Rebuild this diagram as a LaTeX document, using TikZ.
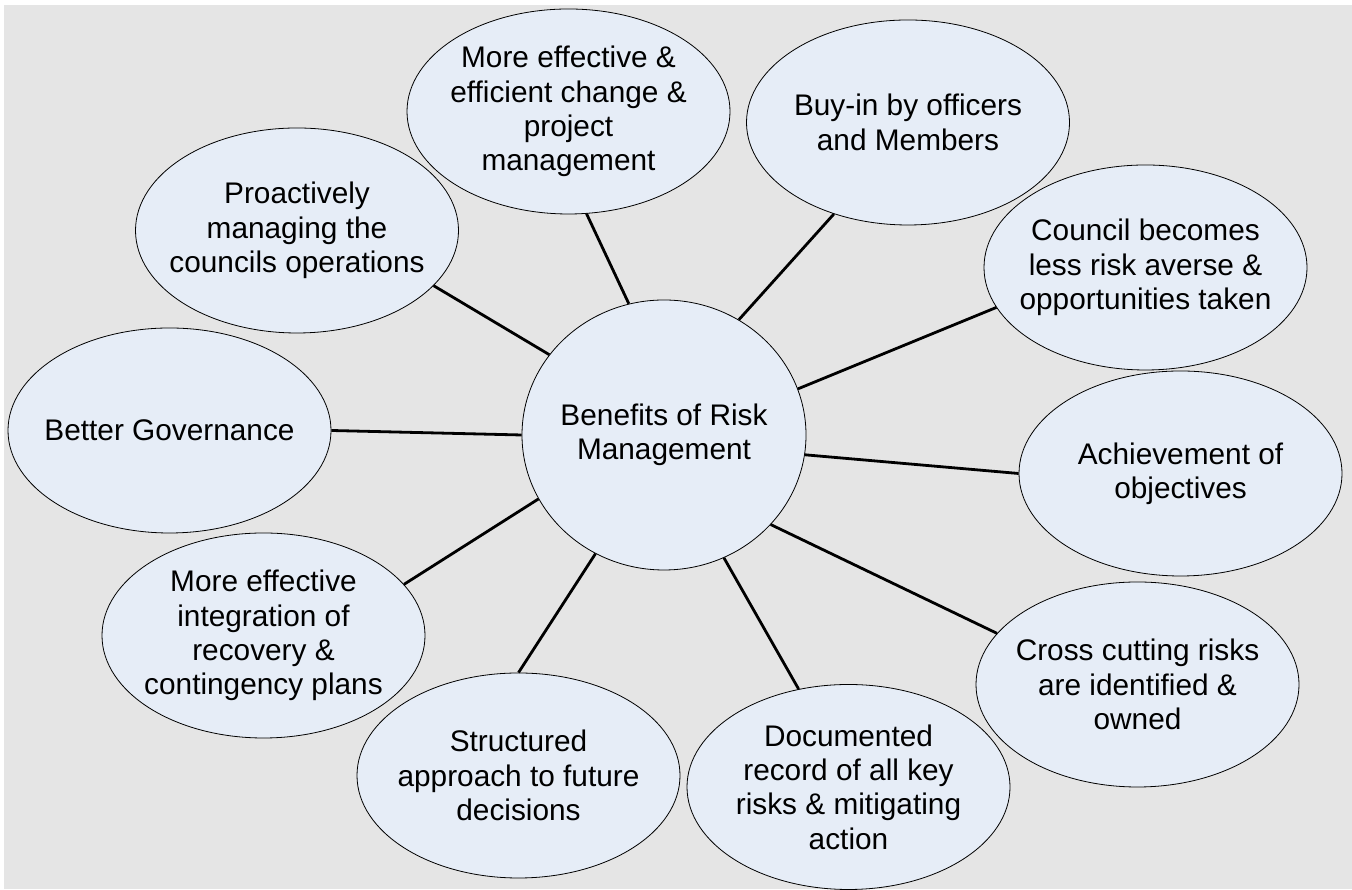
\documentclass[tikz,border=0pt]{standalone}
\usepackage{fontspec}
\setmainfont{Liberation Sans}
\usetikzlibrary{shapes.geometric}
\definecolor{bggray}{RGB}{229,229,229}
\definecolor{bubblefill}{RGB}{230,237,247}
\begin{document}
\begin{tikzpicture}[x=1pt,y=1pt,
  bubble/.style={ellipse, draw=black, line width=0.8pt, fill=bubblefill,
    minimum width=323pt, minimum height=205pt, inner sep=-80pt,
    align=center, font=\fontsize{29.8}{34.3}\selectfont},
  hub/.style={bubble, minimum width=284pt, minimum height=270pt},
  link/.style={line width=2.8pt, line cap=butt}]
\fill[white] (0,0) rectangle (1352,890);
\useasboundingbox (0,0) rectangle (1352,890);
\fill[bggray] (4,1) rectangle (1352,885);

\node[hub] (C) at (664,455) {Benefits of Risk\\Management};

\node[bubble] (A)   at (568.5,778.5) {More effective \&\\efficient change \&\\project\\management};
\node[bubble] (Buy) at (908,767.5) {Buy-in by officers\\and Members};
\node[bubble] (Pro) at (297,659.5) {Proactively\\managing the\\councils operations};
\node[bubble] (Cou) at (1145.5,622.5) {Council becomes\\less risk averse \&\\opportunities taken};
\node[bubble] (BG)  at (169.5,459.5) {Better Governance};
\node[bubble] (Ach) at (1180.5,416.5) {Achievement of\\objectives};
\node[bubble] (Int) at (263.5,254.5) {More effective\\integration of\\recovery \&\\contingency plans};
\node[bubble] (Cro) at (1137.5,205.5) {Cross cutting risks\\are identified \&\\owned};
\node[bubble] (Str) at (518.5,114.5) {Structured\\approach to future\\decisions};
\node[bubble] (Doc) at (848.5,103) {Documented\\record of all key\\risks \& mitigating\\action};

\draw[link] (C.105.3) -- (A.-80.8);
\draw[link] (C.57) -- (Buy.231.1);
\draw[link] (C.145.3) -- (Pro.-22.9);
\draw[link] (C.19.4) -- (Cou.195.8);
\draw[link] (C.180) -- (BG.0);
\draw[link] (C.-8) -- (Ach.180);
\draw[link] (C.207.8) -- (Int.20.8);
\draw[link] (C.-40.3) -- (Cro.160.6);
\draw[link] (C.-64.6) -- (Doc.117.96);
\draw[link] (C.240.5) -- (Str.90.8);
\end{tikzpicture}
\end{document}
